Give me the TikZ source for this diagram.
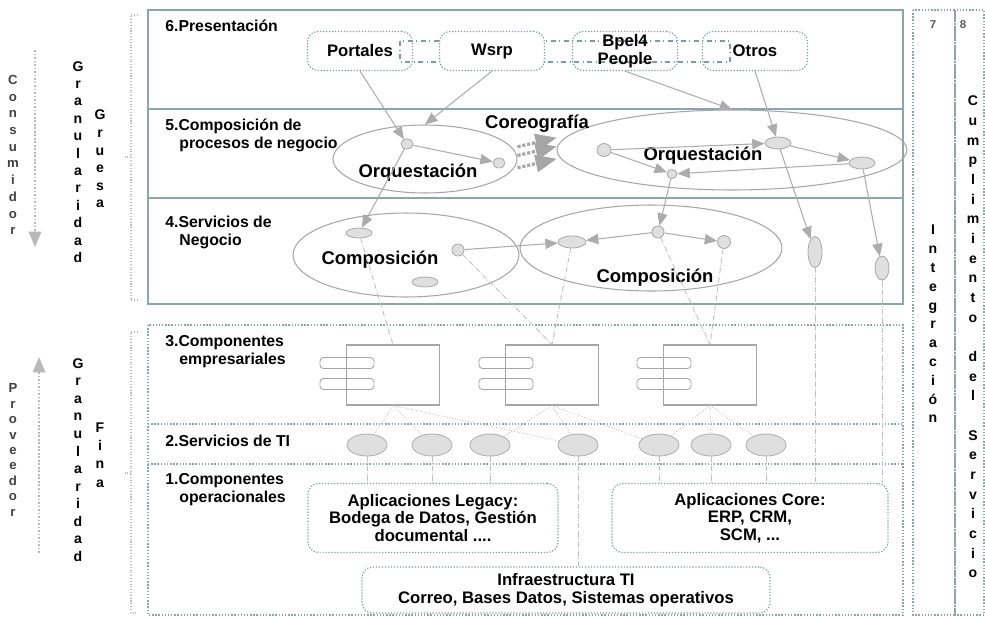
\documentclass[tikz,border=0pt]{standalone}
\usepackage{fontspec}
\setmainfont{Liberation Sans}
\usetikzlibrary{shapes,arrows,positioning}
\definecolor{bordecapa}{RGB}{140,165,172}
\definecolor{bordecaja}{RGB}{125,155,162}
\tikzstyle{capa} = [draw=bordecapa, line width=0.8pt]
\tikzstyle{capapunteada} = [draw=bordecapa, line width=0.8pt, densely dotted]
\tikzstyle{llave} = [draw=gray!55, densely dotted, line width=0.6pt]
\tikzstyle{flechalado} = [draw=gray!55, densely dotted, line width=1pt, -triangle 45]
\tikzstyle{etiqueta} = [anchor=north west, align=left, inner sep=0pt, font=\fontsize{9}{10.2}\selectfont\bfseries]
\tikzstyle{vertical} = [align=center, inner sep=0pt]
\tikzstyle{caja} = [draw=bordecaja, densely dotted, line width=0.7pt, rounded corners=6pt, align=center, inner sep=0pt, font=\fontsize{9.5}{10}\selectfont\bfseries]
\tikzstyle{cajapres} = [caja, minimum width=2.1cm, minimum height=0.78cm]
\tikzstyle{guion} = [draw=bordecaja, dash dot, line width=0.6pt]
\tikzstyle{proceso} = [ellipse, draw=gray!70, line width=0.6pt, inner sep=0pt]
\tikzstyle{titulo} = [inner sep=0pt, font=\fontsize{10.5}{12}\selectfont\bfseries]
\tikzstyle{punto} = [ellipse, draw=gray!65, fill=gray!25, line width=0.5pt, inner sep=0pt]
\tikzstyle{flecha} = [draw=gray!65, line width=0.6pt, -triangle 45]
\tikzstyle{coreo} = [draw=gray!70, line width=1.8pt, densely dotted, -triangle 45]
\tikzstyle{conector} = [draw=gray!50, densely dash dot, line width=0.5pt]
\tikzstyle{punteado} = [draw=gray!50, densely dotted, line width=0.5pt]
\tikzstyle{componente} = [draw=gray!70, line width=0.6pt, minimum width=1.86cm, minimum height=1.2cm, inner sep=0pt]
\tikzstyle{pestana} = [draw=gray!70, line width=0.5pt, rounded corners=2pt, minimum width=1.08cm, minimum height=0.22cm, inner sep=0pt]
\tikzstyle{servicioti} = [ellipse, draw=gray!60, fill=gray!25, line width=0.5pt, minimum width=0.8cm, minimum height=0.44cm, inner sep=0pt]
\tikzstyle{numero} = [inner sep=0pt, text=gray!70!black, font=\fontsize{6.5}{7}\selectfont\bfseries]

\begin{document}
\begin{tikzpicture}[x=0.02cm, y=-0.02cm]
	\useasboundingbox (0,0) rectangle (985,619);
	\draw[capa] (148,10) rectangle (903,304);
	\draw[capa] (148,109) -- (903,109);
	\draw[capa] (148,198) -- (903,198);
	\draw[capapunteada] (148,325) rectangle (903,615);
	\draw[capapunteada] (148,424) -- (903,424);
	\draw[capapunteada] (148,464) -- (903,464);
	\draw[capapunteada] (913,10) rectangle (955,615);
	\draw[capapunteada] (955,10) rectangle (984,615);
	\draw[llave] (138,15) -- (131,15) -- (131,300) -- (138,300);
	\draw[llave] (131,157) -- (125,157);
	\draw[llave] (138,332) -- (131,332) -- (131,613) -- (138,613);
	\draw[llave] (131,473) -- (125,473);

	\coordinate (consArriba) at (35,50);
	\coordinate (consAbajo) at (35,247);
	\draw[flechalado] (consArriba) -- (consAbajo);
	\coordinate (provAbajo) at (39,553);
	\coordinate (provArriba) at (39,357);
	\draw[flechalado] (provAbajo) -- (provArriba);
	\node[vertical, text=black!75, font=\fontsize{7.5}{9.5}\selectfont\bfseries] (consumidor) at (13,155) {C\\o\\n\\s\\u\\m\\i\\d\\o\\r};
	\node[vertical, font=\fontsize{8}{9.9}\selectfont\bfseries] (granGruesa) at (78,162) {G\\r\\a\\n\\u\\l\\a\\r\\i\\d\\a\\d};
	\node[vertical, font=\fontsize{8}{10}\selectfont\bfseries] (gruesa) at (100,159) {G\\r\\u\\e\\s\\a};
	\node[vertical, text=black!75, font=\fontsize{7.5}{8.8}\selectfont\bfseries] (proveedor) at (13,450) {P\\r\\o\\v\\e\\e\\d\\o\\r};
	\node[vertical, font=\fontsize{8}{10}\selectfont\bfseries] (granFina) at (78,460) {G\\r\\a\\n\\u\\l\\a\\r\\i\\d\\a\\d};
	\node[vertical, font=\fontsize{8}{10.4}\selectfont\bfseries] (fina) at (100,455) {F\\i\\n\\a};

	\node[etiqueta] (e6) at (165,20) {6.Presentación};
	\node[etiqueta] (e5) at (165,119) {5.Composición de\\\hspace*{8pt}procesos de negocio};
	\node[etiqueta] (e4) at (165,216) {4.Servicios de\\\hspace*{8pt}Negocio};
	\node[etiqueta] (e3) at (165,335) {3.Componentes\\\hspace*{8pt}empresariales};
	\node[etiqueta] (e2) at (165,435) {2.Servicios de TI};
	\node[etiqueta] (e1) at (165,473) {1.Componentes\\\hspace*{8pt}operacionales};

	\draw[guion] (400,41) rectangle (730,62);
	\node[cajapres] (portales) at (360,51) {Portales};
	\node[cajapres, fill=white] (wsrp) at (492,51) {Wsrp};
	\node[cajapres] (bpel) at (625,51) {Bpel4\\People};
	\node[cajapres] (otros) at (755,51) {Otros};

	\node[proceso, minimum width=3.68cm, minimum height=1.36cm] (orqIzq) at (425,159) {};
	\node[proceso, minimum width=7cm, minimum height=1.6cm] (orqDer) at (732,150) {};
	\node[proceso, minimum width=4.52cm, minimum height=1.68cm] (compIzq) at (406,255) {};
	\node[proceso, minimum width=5.24cm, minimum height=1.72cm] (compDer) at (651,248) {};
	\node[titulo] (tCoreo) at (537,124) {Coreografía};
	\node[titulo] (tOrqIzq) at (418,173) {Orquestación};
	\node[titulo] (tOrqDer) at (703,156) {Orquestación};
	\node[titulo] (tCompIzq) at (380,260) {Composición};
	\node[titulo] (tCompDer) at (655,278) {Composición};

	\node[punto, minimum width=0.24cm, minimum height=0.2cm] (puntoA) at (407,144) {};
	\node[punto, minimum width=0.24cm, minimum height=0.2cm] (puntoB) at (499,163) {};
	\node[punto, minimum width=0.28cm, minimum height=0.26cm] (puntoC) at (604,150) {};
	\node[punto, minimum width=0.2cm, minimum height=0.18cm] (puntoD) at (672,174) {};
	\node[punto, minimum width=0.52cm, minimum height=0.24cm] (puntoE) at (778,143) {};
	\node[punto, minimum width=0.52cm, minimum height=0.24cm] (puntoF) at (862,163) {};
	\node[punto, minimum width=0.52cm, minimum height=0.2cm] (servA) at (359,233) {};
	\node[punto, minimum width=0.24cm, minimum height=0.24cm] (servB) at (458,250) {};
	\node[punto, minimum width=0.52cm, minimum height=0.2cm] (servC) at (425,282) {};
	\node[punto, minimum width=0.56cm, minimum height=0.24cm] (servD) at (572,242) {};
	\node[punto, minimum width=0.24cm, minimum height=0.24cm] (servE) at (658,232) {};
	\node[punto, minimum width=0.26cm, minimum height=0.26cm] (servF) at (724,242) {};
	\node[punto, minimum width=0.28cm, minimum height=0.62cm] (servG) at (815,252) {};
	\node[punto, minimum width=0.28cm, minimum height=0.48cm] (servH) at (882,268) {};

	\draw[flecha] (portales.south) -- (puntoA);
	\draw[flecha] (wsrp.south) -- (orqIzq.north);
	\draw[flecha] (bpel.south) -- (orqDer.north);
	\draw[flecha] (otros.south) -- (puntoE);
	\draw[flecha] (puntoA) -- (puntoB);
	\draw[flecha] (puntoC) -- (puntoE);
	\draw[flecha] (puntoC) -- (puntoD);
	\draw[flecha] (puntoE) -- (puntoF);
	\draw[flecha] (puntoF) -- (puntoD);
	\foreach \dy in {7pt,2pt,-5pt}
		\draw[coreo] ([yshift=\dy]orqIzq.east) -- ([yshift=\dy]orqDer.west);
	\draw[flecha] (puntoA) -- (servA);
	\draw[flecha] (puntoD) -- (servE);
	\draw[flecha] (puntoE) -- (servG);
	\draw[flecha] (puntoF) -- (servH);
	\draw[flecha] (servB) -- (servD);
	\draw[flecha] (servE) -- (servD);
	\draw[flecha] (servE) -- (servF);

	\foreach \x/\n in {393/1,552/2,710/3}{
		\node[componente] (comp\n) at (\x,375) {};
		\node[pestana] (pa\n) at (\x-46,363) {};
		\node[pestana] (pb\n) at (\x-46,384) {};
	}
	\foreach \x [count=\i] in {367,432,490,578,659,711,766}
		\node[servicioti] (ti\i) at (\x,445) {};

	\draw[conector] (servA) -- (comp1.north);
	\draw[conector] (servB) -- (comp2.north);
	\draw[conector] (servD) -- (comp2.north);
	\draw[conector] (servE) -- (comp3.north);
	\draw[conector] (servF) -- (comp3.north);
	\foreach \c/\t in {1/1,1/2,1/4,2/3,2/4,2/5,3/5,3/6,3/7}
		\draw[punteado] (comp\c.south) -- (ti\t);

	\node[caja, minimum width=5cm, minimum height=1.38cm] (legacy) at (433,518) {Aplicaciones Legacy:\\Bodega de Datos, Gestión\\documental ....};
	\node[caja, minimum width=5.52cm, minimum height=1.38cm] (core) at (750,518) {Aplicaciones Core:\\ERP, CRM,\\SCM, ...};
	\node[caja, minimum width=8.16cm, minimum height=0.92cm] (infra) at (566,590) {Infraestructura TI\\Correo, Bases Datos, Sistemas operativos};
	\foreach \t in {1,2,3}
		\draw[conector] (ti\t) -- (ti\t |- legacy.north);
	\foreach \t in {5,6,7}
		\draw[conector] (ti\t) -- (ti\t |- core.north);
	\draw[conector] (ti4) -- (ti4 |- infra.north);
	\draw[conector] (servG) -- (servG |- core.north);
	\draw[conector] (servH) -- (servH |- core.north);

	\node[numero] (n7) at (933,25) {7};
	\node[numero] (n8) at (963,25) {8};
	\node[vertical, font=\fontsize{8}{10.7}\selectfont\bfseries] (integracion) at (933,324) {I\\n\\t\\e\\g\\r\\a\\c\\i\\ó\\n};
	\node[vertical, font=\fontsize{8}{11.2}\selectfont\bfseries] (cumplimiento) at (973,337) {C\\u\\m\\p\\l\\i\\m\\i\\e\\n\\t\\o\\~\\d\\e\\l\\~\\S\\e\\r\\v\\i\\c\\i\\o};
\end{tikzpicture}
\end{document}
